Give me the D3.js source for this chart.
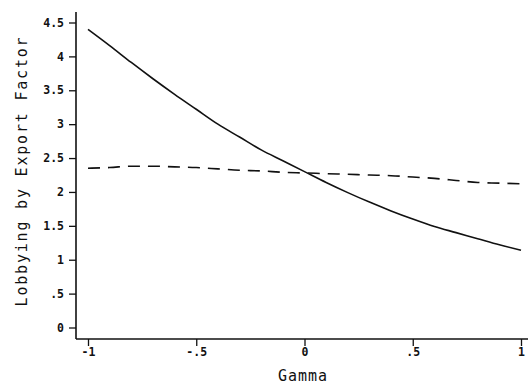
<!DOCTYPE html>
<html>
<head>
<meta charset="utf-8">
<script src="https://cdn.jsdelivr.net/npm/d3@7"></script>
<style>
  body { margin: 0; background: white; }
  text { font-family: "DejaVu Sans Mono", monospace; fill: #111; }
</style>
</head>
<body>
<div id="vizContainer"></div>
<script>
let w = 528;
let h = 389;

// data
let gamma = [-1, -0.9, -0.8, -0.7, -0.6, -0.5, -0.4, -0.3, -0.2, -0.1, 0,
             0.1, 0.2, 0.3, 0.4, 0.5, 0.6, 0.7, 0.8, 0.9, 1];
let solidVals = [4.40, 4.16, 3.91, 3.67, 3.44, 3.22, 3.00, 2.81, 2.62, 2.46, 2.30,
                 2.14, 1.99, 1.85, 1.72, 1.60, 1.49, 1.40, 1.31, 1.22, 1.14];
let dashedVals = [2.35, 2.36, 2.38, 2.38, 2.37, 2.36, 2.34, 2.32, 2.31, 2.29, 2.28,
                  2.27, 2.26, 2.25, 2.24, 2.22, 2.20, 2.17, 2.14, 2.13, 2.12];
let xTicks = [-1, -0.5, 0, 0.5, 1];
let xTickLabels = ["-1", "-.5", "0", ".5", "1"];
let yTicks = [0, 0.5, 1, 1.5, 2, 2.5, 3, 3.5, 4, 4.5];
let yTickLabels = ["0", ".5", "1", "1.5", "2", "2.5", "3", "3.5", "4", "4.5"];

let viz = d3.select("#vizContainer").append("svg")
    .attr("width", w)
    .attr("height", h)
;

let axisX = 76;   // where the y axis sits
let axisY = 339;  // where the x axis sits

let xScale = d3.scaleLinear().domain([-1, 1]).range([88, 521]);
let yScale = d3.scaleLinear().domain([0, 4.5]).range([327.5, 22.5]);

// y axis
let yAxis = d3.axisLeft(yScale)
    .tickValues(yTicks)
    .tickFormat((d, i) => yTickLabels[i])
    .tickSize(7)
    .tickPadding(5);
let yAxisGroup = viz.append("g")
    .attr("transform", "translate(" + axisX + ",0)")
    .call(yAxis);
yAxisGroup.select(".domain").remove();
yAxisGroup.selectAll("line").attr("stroke", "#111").attr("stroke-width", 1.3);
yAxisGroup.selectAll("text")
    .attr("font-size", 11.5)
    .attr("font-weight", "bold")
    .style("font-family", "DejaVu Sans Mono, monospace");
viz.append("line")
    .attr("x1", axisX).attr("x2", axisX)
    .attr("y1", 12).attr("y2", axisY)
    .attr("stroke", "#111").attr("stroke-width", 1.6);

// x axis
let xAxis = d3.axisBottom(xScale)
    .tickValues(xTicks)
    .tickFormat((d, i) => xTickLabels[i])
    .tickSize(7)
    .tickPadding(2);
let xAxisGroup = viz.append("g")
    .attr("transform", "translate(0," + axisY + ")")
    .call(xAxis);
xAxisGroup.select(".domain").remove();
xAxisGroup.selectAll("line").attr("stroke", "#111").attr("stroke-width", 1.3);
xAxisGroup.selectAll("text")
    .attr("font-size", 11.5)
    .attr("font-weight", "bold")
    .style("font-family", "DejaVu Sans Mono, monospace");
viz.append("line")
    .attr("x1", axisX).attr("x2", w)
    .attr("y1", axisY).attr("y2", axisY)
    .attr("stroke", "#111").attr("stroke-width", 1.6);

// titles
viz.append("text")
    .attr("x", 303)
    .attr("y", 381)
    .attr("text-anchor", "middle")
    .attr("font-size", 15)
    .attr("letter-spacing", 1)
    .text("Gamma");

viz.append("text")
    .attr("transform", "translate(27,171) rotate(-90)")
    .attr("text-anchor", "middle")
    .attr("font-size", 15)
    .attr("letter-spacing", 1.8)
    .text("Lobbying by Export Factor");

// lines
let line = d3.line()
    .x((d, i) => xScale(gamma[i]))
    .y(d => yScale(d))
    .curve(d3.curveMonotoneX);

viz.append("path")
    .datum(solidVals)
    .attr("d", line)
    .attr("fill", "none")
    .attr("stroke", "#111")
    .attr("stroke-width", 1.6);

viz.append("path")
    .datum(dashedVals)
    .attr("d", line)
    .attr("fill", "none")
    .attr("stroke", "#111")
    .attr("stroke-width", 1.6)
    .attr("stroke-dasharray", "12,8");
</script>
</body>
</html>
